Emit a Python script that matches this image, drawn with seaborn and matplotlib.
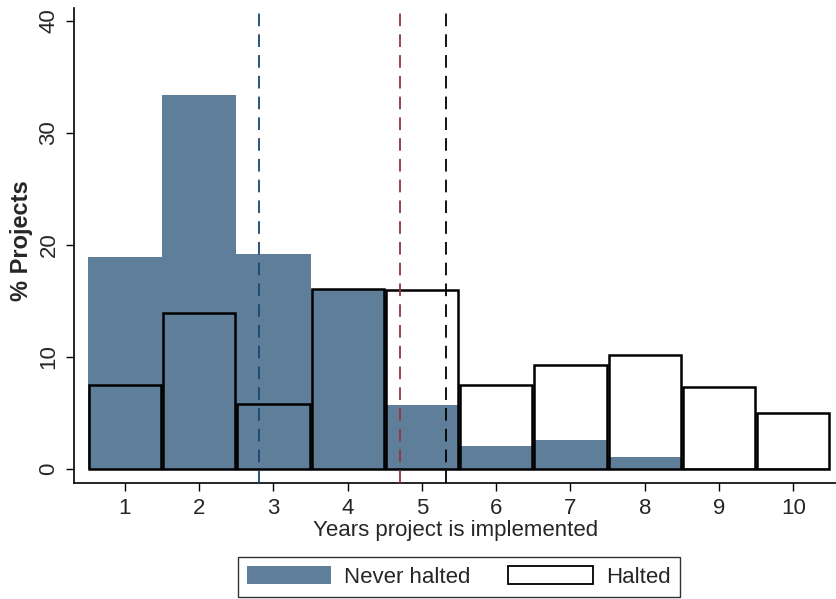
import matplotlib
matplotlib.use('Agg')
import matplotlib.pyplot as plt
import numpy as np
import seaborn as sns
from matplotlib.patches import Patch

# share of projects (%) by years implemented
years = [1, 2, 3, 4, 5, 6, 7, 8, 9, 10]
never_halted = [18.9, 33.4, 19.2, 16.1, 5.7, 2.0, 2.6, 1.1, 0.1, 0.1]
halted = [7.5, 13.9, 5.8, 16.1, 16.0, 7.45, 9.3, 10.2, 7.3, 4.95]

# mean years (dashed reference lines)
mean_lines = [2.81, 4.71, 5.32]
mean_colors = ['#1a476f', '#90353b', '#000000']

fill_color = '#5f7e9a'
fs = 16

sns.set_theme(style='white')
plt.rcParams['font.family'] = ['Liberation Sans', 'DejaVu Sans']

fig = plt.figure(figsize=(8.37, 5.99), dpi=100)
ax = fig.add_axes([0.0884, 0.1937, 0.9116, 0.7930])

sns.histplot(x=years, weights=never_halted, discrete=True, color=fill_color,
             alpha=1, edgecolor='none', linewidth=0, ax=ax)
sns.histplot(x=years, weights=halted, discrete=True, fill=False, color='black',
             linewidth=1.8, shrink=0.975, ax=ax)

for xv, c in zip(mean_lines, mean_colors):
    ax.axvline(xv, color=c, lw=1.3, dashes=(7, 4.5), zorder=3)

ax.set_xlim(0.313, 10.59)
ax.set_ylim(-1.26, 41.17)
ax.set_xticks(years)
ax.set_yticks([0, 10, 20, 30, 40])
ax.tick_params(axis='both', which='major', direction='out', length=5.5,
               width=1, color='black', labelsize=fs, pad=5,
               bottom=True, left=True)
for lab in ax.get_yticklabels():
    lab.set_rotation(90)
    lab.set_va('center')
ax.set_xlabel('Years project is implemented', fontsize=fs, labelpad=1)
ax.set_ylabel('% Projects', fontsize=17, fontweight='bold')
ax.yaxis.set_label_coords(-0.054, 0.51)

sns.despine(ax=ax)
for s in ['left', 'bottom']:
    ax.spines[s].set_color('black')
    ax.spines[s].set_linewidth(1.2)

handles = [Patch(facecolor=fill_color, edgecolor='none', label='Never halted'),
           Patch(facecolor='white', edgecolor='black', linewidth=1.3, label='Halted')]
leg = fig.legend(handles=handles, loc='center', bbox_to_anchor=(0.548, 0.037),
                 ncol=2, fontsize=fs, frameon=True, fancybox=False,
                 handlelength=3.8, handleheight=0.9, handletextpad=0.6,
                 columnspacing=1.7, borderpad=0.4, borderaxespad=0)
leg.get_frame().set_edgecolor('black')
leg.get_frame().set_linewidth(1.0)

fig.savefig('out.png', dpi=100)
